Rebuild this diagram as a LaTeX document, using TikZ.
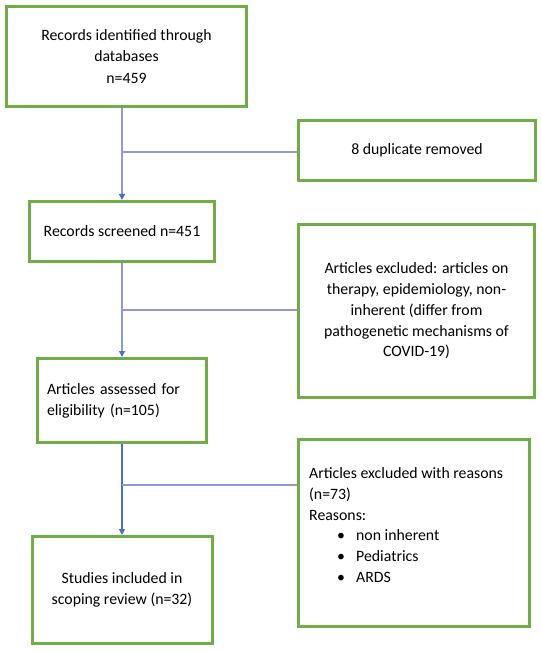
\documentclass[tikz,border=0pt]{standalone}
\usepackage{fontspec}
\setmainfont{Carlito}
\usetikzlibrary{positioning}
\usetikzlibrary{arrows.meta}
\definecolor{boxgreen}{RGB}{112,173,71}
\definecolor{linkblue}{RGB}{68,114,196}
\definecolor{linklilac}{RGB}{143,152,208}
\tikzset{main node/.style={shape=rectangle,
    draw=boxgreen, line width=3pt, align=center,
    fill=white, inner sep=0pt},
  flow/.style={draw=linklilac, line width=1.2pt,
    -{Triangle[length=6pt,width=6pt,color=linkblue]}},
  branch/.style={draw=linklilac, line width=1.2pt}}
\newcommand{\reasonitem}[1]{\hspace*{28pt}\makebox[19pt][l]{\textbullet}#1}

\begin{document}
\begin{tikzpicture}[x=1pt,y=-1pt,font=\fontsize{15.8}{20.8}\selectfont]
    \useasboundingbox (0,0) rectangle (540,652);

    \node[main node, minimum width=240pt, minimum height=100pt] (1) at (126.5,56.5) {Records identified through\\[1pt]databases\\[1pt]n=459};
    \node[main node, minimum width=237pt, minimum height=60pt] (2) at (417,150.5) {8 duplicate removed};

    \node[main node, minimum width=185pt, minimum height=60pt] (3) at (122,231.5) {Records screened n=451};
    \node[main node, minimum width=236pt, minimum height=173pt] (5) at (416.5,311) {Articles excluded: articles on\\therapy, epidemiology, non-\\inherent (differ from\\pathogenetic mechanisms of\\COVID-19)};

    \node[main node, minimum width=169pt, minimum height=84pt, text width=150pt, align=left] (4) at (122,400.5) {Articles assessed for\\eligibility (n=105)};
    \node[main node, minimum width=231pt, minimum height=187pt] (6) at (414,533) {};
    \node[align=left, anchor=west, inner sep=0pt] (6t) at (309,525) {Articles excluded with reasons\\(n=73)\\Reasons:\\\reasonitem{non inherent}\\\reasonitem{Pediatrics}\\\reasonitem{ARDS}};

    \node[main node, minimum width=180pt, minimum height=107pt] (7) at (122,590) {Studies included in\\scoping review (n=32)};

    % junctions on the main column
    \coordinate (j1) at (3.north |- 0,152);
    \coordinate (j2) at (3.north |- 0,310);
    \coordinate (j3) at (3.north |- 0,485);

    \path[flow] (1.south -| 3.north) -- (3.north);
    \path[flow] (3.south) -- (4.north);
    \path[flow, draw=linkblue, line width=2pt] (4.south) -- (7.north);

    \path[branch]
    (j1) -- (j1 -| 2.west)
    (j2) -- (j2 -| 5.west)
    (j3) -- (j3 -| 6.west);
\end{tikzpicture}
\end{document}
